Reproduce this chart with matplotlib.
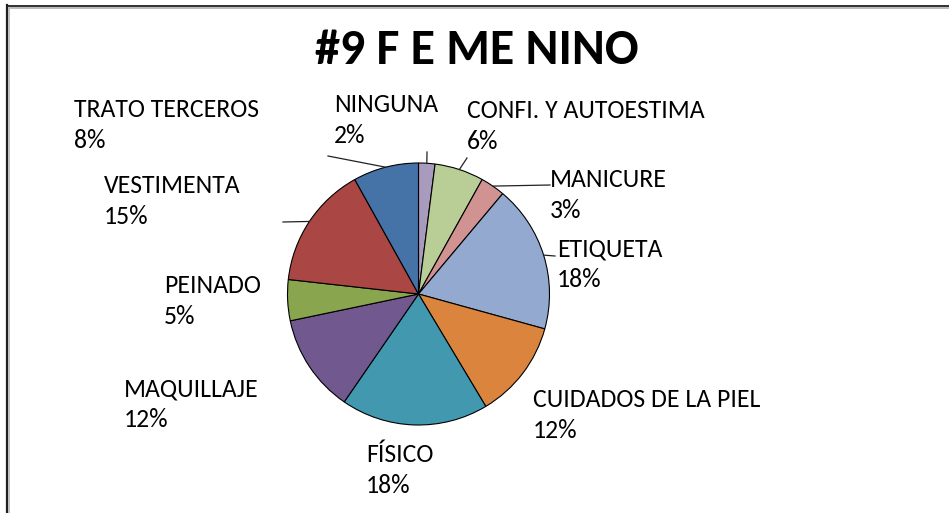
import numpy as np
import matplotlib
matplotlib.use("Agg")
import matplotlib.pyplot as plt
from matplotlib.lines import Line2D

# ---- data ----
categories = ["NINGUNA", "CONFI. Y AUTOESTIMA", "MANICURE", "ETIQUETA",
              "CUIDADOS DE LA PIEL", "FÍSICO", "MAQUILLAJE", "PEINADO",
              "VESTIMENTA", "TRATO TERCEROS"]
values = [2, 6, 3, 18, 12, 18, 12, 5, 15, 8]
colors = ["#A99BBD", "#B9CD96", "#D19392", "#93A9CF", "#DB843D",
          "#4198AF", "#71588F", "#89A54E", "#AA4643", "#4572A7"]
title = "#9 F E ME NINO"

# ---- layout (pixel positions, y from top) ----
W, H = 949, 513
label_pos = [(334, 112), (467, 118), (550, 187), (557, 256), (533, 407),
             (366, 462), (124, 396), (164, 293), (104, 193), (74, 117)]
line_gap = 31
leader_anchor = {0: (427, 152), 1: (467, 158), 2: (550, 185),
                 3: (555, 256), 8: (283, 222), 9: (328, 156)}

fam = ["Carlito", "Lato", "DejaVu Sans"]

fig = plt.figure(figsize=(W / 100, H / 100), dpi=100)
ax = fig.add_axes([0, 0, 1, 1])

def P(x, y):
    return x, H - y

cx, cy = P(418.5, 294)
R = 131
wedges, _ = ax.pie(values, colors=colors, startangle=90, counterclock=False,
                   center=(cx, cy), radius=R,
                   wedgeprops=dict(edgecolor="black", linewidth=0.8))
ax.set_xlim(0, W)
ax.set_ylim(0, H)
ax.set_aspect("equal")
ax.axis("off")

for i, (name, v) in enumerate(zip(categories, values)):
    x, yb = label_pos[i]
    ax.text(*P(x, yb), name, ha="left", va="baseline", fontsize=18.5,
            family=fam, color="black")
    ax.text(*P(x, yb + line_gap), f"{v}%", ha="left", va="baseline",
            fontsize=18.5, family=fam, color="black")
    if i in leader_anchor:
        w = wedges[i]
        mid = np.deg2rad((w.theta1 + w.theta2) / 2)
        ex, ey = cx + R * np.cos(mid), cy + R * np.sin(mid)
        axx, ayy = P(*leader_anchor[i])
        ax.plot([axx, ex], [ayy, ey], color="#222222", lw=0.9)

ax.text(*P(476.5, 64), title, ha="center", va="baseline", fontsize=36,
        fontweight="bold", family=fam, color="black")

# chart frame (top and left edges visible)
ax.add_line(Line2D([7, W], [H - 5.5, H - 5.5], color="#303030", lw=1.4))
ax.add_line(Line2D([8.5, W], [H - 8.3, H - 8.3], color="#BBBBBB", lw=1.4))
ax.add_line(Line2D([7.3, 7.3], [0, H - 5], color="#202020", lw=1.6))
ax.add_line(Line2D([9.3, 9.3], [0, H - 8], color="#C0C0C0", lw=1.4))

fig.savefig("out.png", dpi=100)
